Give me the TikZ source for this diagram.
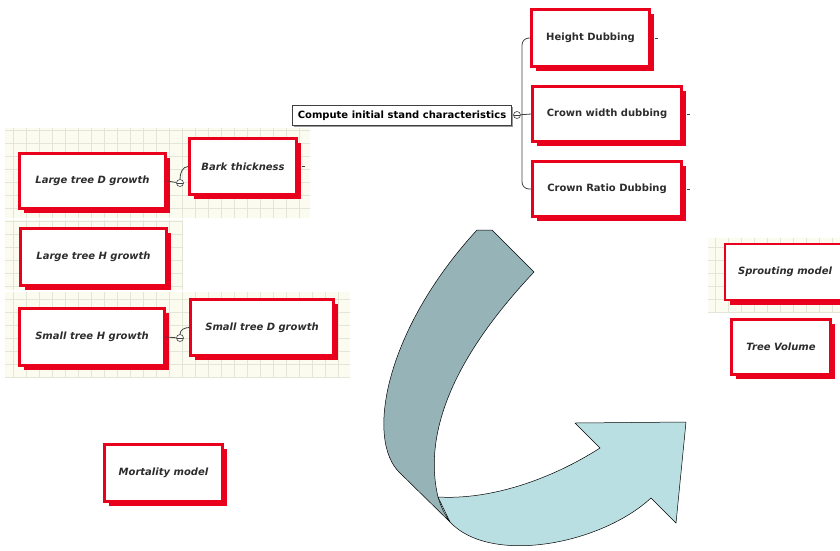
\documentclass[tikz,border=0pt]{standalone}
\usepackage{fontspec}
\setsansfont{DejaVu Sans}
\usetikzlibrary{shadows}
\definecolor{boxred}{RGB}{232,0,28}
\definecolor{labelgray}{RGB}{45,45,45}
\definecolor{gridbg}{RGB}{251,251,240}
\definecolor{gridln}{RGB}{226,230,214}
\definecolor{bandd}{RGB}{150,179,184}
\definecolor{bandl}{RGB}{186,223,227}
\begin{document}
\begin{tikzpicture}[x=1pt,y=1pt,
	model/.style={draw=boxred,line width=2.5pt,fill=white,text=labelgray,inner sep=0pt,
		font=\sffamily\bfseries\itshape\fontsize{10}{12}\selectfont,
		drop shadow={shadow xshift=4.5pt,shadow yshift=-4.5pt,fill=boxred,opacity=1}},
	dub/.style={model,font=\sffamily\bfseries\fontsize{10}{12}\selectfont},
	hub/.style={circle,draw=black!75,fill=white,minimum size=7pt,inner sep=0pt,line width=.6pt,
		path picture={\draw[line width=.6pt] (path picture bounding box.west) -- (path picture bounding box.east);}},
	link/.style={draw=black!75,line width=.8pt}]
	\useasboundingbox (0,0) rectangle (840,-550);
	\clip (0,0) rectangle (840,-550);
	% grid backgrounds
	\foreach \xa/\ya/\xb/\yb in {5/128/310/218, 5/220/182/290, 5/292/350/378, 708/238/840/312} {
		\fill[gridbg] (\xa,-\ya) rectangle (\xb,-\yb);
		\draw[gridln,step=13pt] (\xa,-\ya) grid (\xb,-\yb);
	}
	% curved arrow
	\draw[fill=bandl,line width=.5pt] (438,-497) .. controls (490,-500) and (550,-480) .. (600,-448)
		-- (575,-423) -- (686,-422) -- (676,-523) -- (651,-498)
		.. controls (600,-545) and (490,-565) .. (450,-522) -- cycle;
	\draw[fill=bandd,line width=.5pt] (477,-230) -- (492,-230) -- (534,-272)
		.. controls (470,-340) and (420,-420) .. (438,-497)
		.. controls (441,-507) and (445,-515) .. (450,-522) -- (400,-473)
		.. controls (365,-440) and (385,-330) .. (477,-230) -- cycle;
	% stand characteristics
	\node[draw=black!75,line width=.8pt,fill=white,minimum width=219pt,minimum height=20pt,inner sep=0pt,
		font=\sffamily\bfseries\fontsize{10}{12}\selectfont,
		drop shadow={shadow xshift=1pt,shadow yshift=-1pt,fill=black!40,opacity=1}] (isc) at (402,-115.5) {Compute initial stand characteristics};
	\node[hub] (hubT) at (517,-115) {};
	\node[dub,minimum width=118pt,minimum height=57pt] (hgt) at (590.5,-38) {Height Dubbing};
	\node[dub,minimum width=149pt,minimum height=55pt] (cwd) at (607,-114) {Crown width dubbing};
	\node[dub,minimum width=149pt,minimum height=55pt] (crd) at (607,-189) {Crown Ratio Dubbing};
	\coordinate (fork) at (522,-115);
	\draw[link] (hubT) -- (cwd.west);
	\draw[link,rounded corners=7pt] (hgt.west) -| (fork) |- (crd.west);
	% growth models
	\node[model,minimum width=146pt,minimum height=55pt] (ldg) at (92.5,-181) {Large tree D growth};
	\node[model,minimum width=107pt,minimum height=56pt] (bark) at (243,-166.5) {Bark thickness};
	\node[model,minimum width=146pt,minimum height=57pt] (lhg) at (93.5,-257) {Large tree H growth};
	\node[model,minimum width=145pt,minimum height=57pt] (shg) at (92,-337) {Small tree H growth};
	\node[model,minimum width=143pt,minimum height=56pt] (sdg) at (262,-327.5) {Small tree D growth};
	\node[hub] (hubL) at (180,-183) {};
	\node[hub] (hubS) at (180,-338) {};
	\draw[link] (ldg.east) -- (hubL);
	\draw[link] (hubL.north) to[out=90,in=180] (bark.west);
	\draw[link] (shg.east) -- (hubS);
	\draw[link] (hubS.north) to[out=90,in=180] (sdg.west);
	% other models
	\node[model,minimum width=118pt,minimum height=57pt] (mort) at (163.5,-473) {Mortality model};
	\node[model,minimum width=120pt,minimum height=56pt] (sprt) at (785,-272) {Sprouting model};
	\node[model,minimum width=99pt,minimum height=55pt] (vol) at (781,-347) {Tree Volume};
	\foreach \n in {bark,hgt,cwd,crd}
		\draw[link] (\n.east) ++(4,0) -- ++(3,0);
\end{tikzpicture}
\end{document}
